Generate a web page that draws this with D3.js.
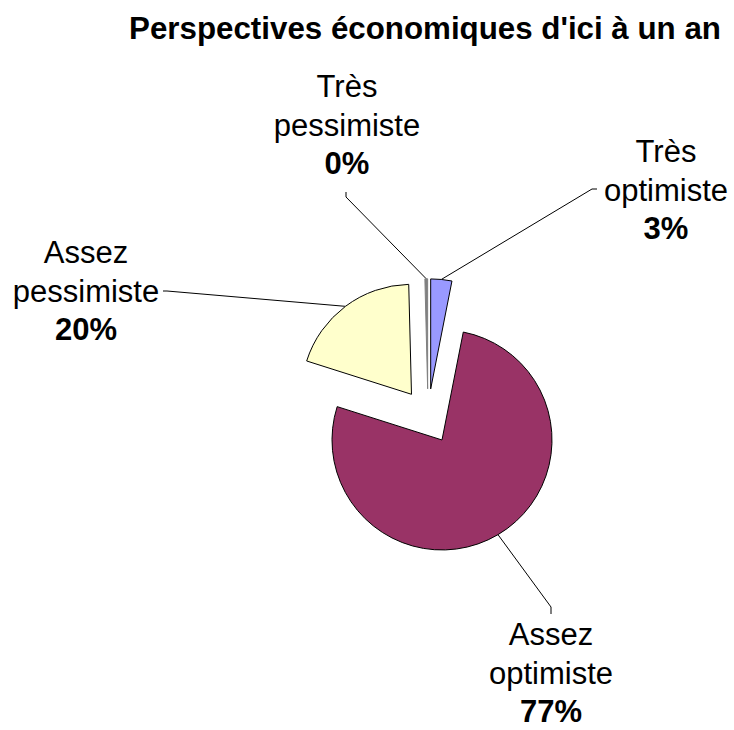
<!DOCTYPE html>
<html>
<head>
<meta charset="utf-8">
<script src="https://cdn.jsdelivr.net/npm/d3@7"></script>
<style>
  html, body { margin: 0; padding: 0; background: #fff; }
  svg { display: block; }
  text { font-family: "Liberation Sans", Arial, sans-serif; fill: #000; }
</style>
</head>
<body>
<svg id="chart" width="734" height="730"></svg>
<script>
// ---- data ----
const title = "Perspectives économiques d'ici à un an";
const categories = ["Très optimiste", "Assez optimiste", "Assez pessimiste", "Très pessimiste"];
const values = [3.1, 76.8, 19.7, 0.4];
const colors = ["#9999FF", "#993366", "#FFFFCC", "#808080"];

// ---- layout ----
const W = 734, H = 730;
const cx = 428, cy = 416.3, R = 110, explode = 27.5;
const fontSize = 31, lineH = 38.5;
// label anchor (center x, first baseline) and leader path elbow points
const labelLayout = {
  "Très optimiste":   { x: 666, y: 162, pts: [[592, 189], [597, 189]] },
  "Assez optimiste":  { x: 551, y: 645, pts: [[551, 607], [551, 614]] },
  "Assez pessimiste": { x: 86,  y: 263, pts: [[167, 291], [163, 291]] },
  "Très pessimiste":  { x: 347, y: 97,  pts: [[346, 197], [346, 192]] }
};

const svg = d3.select("#chart");
const total = d3.sum(values);
const data = categories.map((c, i) => ({ name: c, value: values[i], color: colors[i] }));

const pie = d3.pie().sort(null).value(d => d.value).startAngle(0).endAngle(2 * Math.PI);
const arcs = pie(data);
const arc = d3.arc().innerRadius(0).outerRadius(R);

function offset(a) {
  const m = (a.startAngle + a.endAngle) / 2;
  return [explode * Math.sin(m), -explode * Math.cos(m)];
}

// title
svg.append("text")
  .attr("x", 425).attr("y", 39)
  .attr("text-anchor", "middle")
  .style("font-size", "31.3px").style("font-weight", "bold")
  .text(title);

// leader lines
const g = svg.append("g");
arcs.forEach(a => {
  const [ox, oy] = offset(a);
  const m = (a.startAngle + a.endAngle) / 2;
  const px = cx + ox + R * Math.sin(m), py = cy + oy - R * Math.cos(m);
  const L = labelLayout[a.data.name];
  const pts = [[px, py]].concat(L.pts);
  g.append("path")
    .attr("d", d3.line()(pts))
    .attr("fill", "none").attr("stroke", "#000").attr("stroke-width", 1);
});

// slices
arcs.forEach(a => {
  const [ox, oy] = offset(a);
  g.append("path")
    .attr("transform", `translate(${cx + ox},${cy + oy})`)
    .attr("d", arc(a))
    .attr("fill", a.data.color)
    .attr("stroke", a.data.name === "Très pessimiste" ? "#808080" : "#000")
    .attr("stroke-width", 1)
    .attr("stroke-linejoin", "miter");
});

// labels
arcs.forEach(a => {
  const L = labelLayout[a.data.name];
  const words = a.data.name.split(" ");
  const pct = Math.round(a.data.value / total * 100) + "%";
  const t = svg.append("text")
    .attr("text-anchor", "middle")
    .style("font-size", fontSize + "px");
  words.forEach((w, i) => {
    t.append("tspan").attr("x", L.x).attr("y", L.y + i * lineH).text(w);
  });
  t.append("tspan").attr("x", L.x).attr("y", L.y + words.length * lineH)
    .style("font-weight", "bold").text(pct);
});
</script>
</body>
</html>
